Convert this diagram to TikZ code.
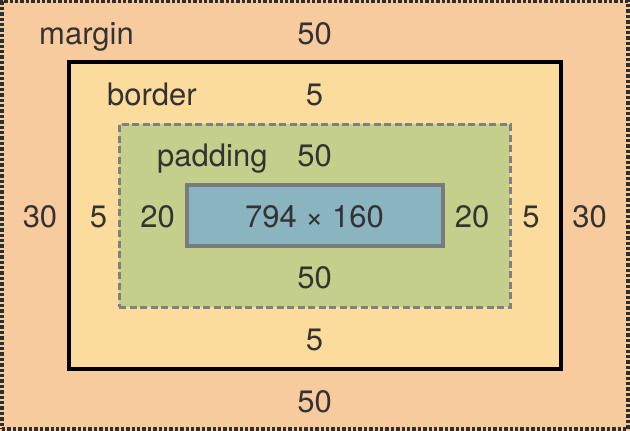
\documentclass[tikz,border=0pt]{standalone}
\usepackage{fontspec}
\setmainfont{TeX Gyre Heros}
\definecolor{margincol}{HTML}{F8CB9F}
\definecolor{bordercol}{HTML}{FCDC9D}
\definecolor{paddingcol}{HTML}{C3CF8B}
\definecolor{contentcol}{HTML}{8BB4C1}
\definecolor{txt}{HTML}{333333}
\definecolor{dashgray}{HTML}{808080}
\tikzset{
  box/.style={inner sep=0pt, outer sep=0pt},
  lbl/.style={inner sep=0pt, text=txt, font=\fontsize{31}{36}\selectfont, anchor=base},
  wlbl/.style={lbl, anchor=base west},
}
\begin{document}
\begin{tikzpicture}[x=1pt,y=-1pt]
\useasboundingbox (0,0) rectangle (630,431);
\fill[margincol] (0,0) rectangle (630,431);
\node[box, draw=txt!90!black, line width=3.2pt, dash pattern=on 3.4pt off 2pt,
  minimum width=626pt, minimum height=427.5pt] (marginbox) at (315,215.2) {};
\node[box, fill=bordercol, draw=black, line width=3.6pt,
  minimum width=492.5pt, minimum height=307pt] (borderbox) at (315,215.5) {};
\node[box, fill=paddingcol, draw=dashgray, line width=3pt, dash pattern=on 7pt off 3.5pt,
  minimum width=391pt, minimum height=183pt] (paddingbox) at (314.5,215.5) {};
\node[box, fill=contentcol, draw=dashgray!95!black, line width=3.2pt,
  minimum width=256pt, minimum height=61pt] (contentbox) at (315,215.5) {};
% labels
\node[wlbl] (marginlbl) at (39,44) {margin};
\node[wlbl] (borderlbl) at (107,105) {border};
\node[wlbl] (paddinglbl) at (157,166) {padding};
\node[lbl] (mtop) at (314.5,44) {50};
\node[lbl] (btop) at (314.5,105) {5};
\node[lbl] (ptop) at (314.5,166) {50};
\node[lbl] (content) at (314.5,227) {794 × 160};
\node[lbl] (pbot) at (314.5,288) {50};
\node[lbl] (bbot) at (314.5,350) {5};
\node[lbl] (mbot) at (314.5,412) {50};
\node[lbl] (mleft) at (40,227) {30};
\node[lbl] (bleft) at (98.5,227) {5};
\node[lbl] (pleft) at (157.5,227) {20};
\node[lbl] (pright) at (472,227) {20};
\node[lbl] (bright) at (531,227) {5};
\node[lbl] (mright) at (589.5,227) {30};
\end{tikzpicture}
\end{document}
